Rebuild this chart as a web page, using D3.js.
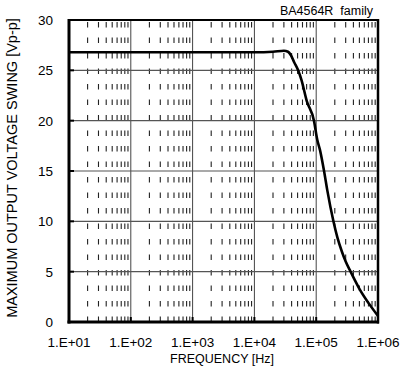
<!DOCTYPE html>
<html>
<head>
<meta charset="utf-8">
<script src="https://cdn.jsdelivr.net/npm/d3@7"></script>
<style>
  html, body { margin: 0; padding: 0; background: #fff; }
  svg { display: block; }
  text { font-family: "Liberation Sans", Arial, sans-serif; fill: #000; }
</style>
</head>
<body>
<svg id="chart" width="403" height="372"></svg>
<script>
// ---- data ----
const freqHz = [10, 100, 1000, 10000, 20000, 30000, 35000, 39000, 44000, 51000, 58000, 70000, 92000, 104000, 115000, 134000, 151000, 190000, 220000, 260000, 300000, 360000, 500000, 700000, 1000000];
const swingVpp = [26.8, 26.8, 26.8, 26.8, 26.85, 26.95, 26.85, 26.5, 25.8, 25.0, 24.0, 22.0, 20.0, 18.1, 17.1, 15.0, 13.1, 10.0, 8.4, 7.0, 6.0, 5.0, 3.3, 1.9, 0.6];
const xTickValues = [1e1, 1e2, 1e3, 1e4, 1e5, 1e6];
const xTickLabels = ["1.E+01", "1.E+02", "1.E+03", "1.E+04", "1.E+05", "1.E+06"];
const yTickValues = [0, 5, 10, 15, 20, 25, 30];
const title = "BA4564R\u00a0 family";
const xTitle = "FREQUENCY [Hz]";
const yTitle = "MAXIMUM OUTPUT VOLTAGE SWING [Vp-p]";

// ---- layout ----
const L = 69, R = 378, T = 20, B = 322;
const svg = d3.select("#chart");
const x = d3.scaleLog().domain([10, 1e6]).range([L, R]);
const y = d3.scaleLinear().domain([0, 30]).range([B, T]);

// minor dashed verticals
const minors = [];
for (let d = 1; d <= 5; d++) for (let k = 2; k <= 9; k++) minors.push(k * Math.pow(10, d));
svg.append("g").selectAll("line").data(minors).join("line")
  .attr("x1", d => x(d)).attr("x2", d => x(d))
  .attr("y1", T).attr("y2", B)
  .attr("stroke", "#222").attr("stroke-width", 1.1)
  .attr("stroke-dasharray", "5.5,10").attr("stroke-dashoffset", 13.4);

// major verticals
svg.append("g").selectAll("line").data(xTickValues.slice(1, -1)).join("line")
  .attr("x1", d => x(d)).attr("x2", d => x(d))
  .attr("y1", T).attr("y2", B)
  .attr("stroke", "#444").attr("stroke-width", 1);

// horizontal gridlines
svg.append("g").selectAll("line").data(yTickValues.slice(1, -1)).join("line")
  .attr("x1", L).attr("x2", R)
  .attr("y1", d => y(d)).attr("y2", d => y(d))
  .attr("stroke", "#555").attr("stroke-width", 1.2);

// curve
const line = d3.line().x((d, i) => x(freqHz[i])).y(d => y(d)).curve(d3.curveMonotoneX);
svg.append("path").datum(swingVpp)
  .attr("d", line).attr("fill", "none")
  .attr("stroke", "#000").attr("stroke-width", 2.6).attr("stroke-linejoin", "round");

// inner ticks
svg.append("g").selectAll("line").data(yTickValues).join("line")
  .attr("x1", L).attr("x2", L + 5)
  .attr("y1", d => y(d)).attr("y2", d => y(d))
  .attr("stroke", "#000").attr("stroke-width", 2);
svg.append("g").selectAll("line").data(xTickValues).join("line")
  .attr("x1", d => x(d)).attr("x2", d => x(d))
  .attr("y1", B).attr("y2", B - 5)
  .attr("stroke", "#000").attr("stroke-width", 2);

// frame
svg.append("rect").attr("x", L).attr("y", T).attr("width", R - L).attr("height", B - T)
  .attr("fill", "none").attr("stroke", "#000").attr("stroke-width", 2);
svg.append("line").attr("x1", L).attr("x2", L).attr("y1", T - 1).attr("y2", B + 1.5)
  .attr("stroke", "#000").attr("stroke-width", 3);
svg.append("line").attr("x1", L - 1.5).attr("x2", R + 1).attr("y1", B).attr("y2", B)
  .attr("stroke", "#000").attr("stroke-width", 3);
svg.append("line").attr("x1", R).attr("x2", R).attr("y1", T - 1).attr("y2", B + 1.5)
  .attr("stroke", "#000").attr("stroke-width", 2.5);

// y tick labels
svg.append("g").selectAll("text").data(yTickValues).join("text")
  .attr("x", 53).attr("y", d => y(d)).attr("dy", "0.36em")
  .attr("text-anchor", "end").attr("font-size", 13.5)
  .text(d => d);

// x tick labels
svg.append("g").selectAll("text").data(xTickValues).join("text")
  .attr("x", d => x(d)).attr("y", 347)
  .attr("text-anchor", "middle").attr("font-size", 13.5)
  .text((d, i) => xTickLabels[i]);

// titles
svg.append("text").attr("x", 222).attr("y", 363).attr("text-anchor", "middle")
  .attr("font-size", 12.5).text(xTitle);
svg.append("text").attr("transform", "translate(17,168) rotate(-90)")
  .attr("text-anchor", "middle").attr("font-size", 14.5)
  .text(yTitle);
svg.append("text").attr("x", 373).attr("y", 15).attr("text-anchor", "end")
  .attr("font-size", 12.5).text(title);
</script>
</body>
</html>
